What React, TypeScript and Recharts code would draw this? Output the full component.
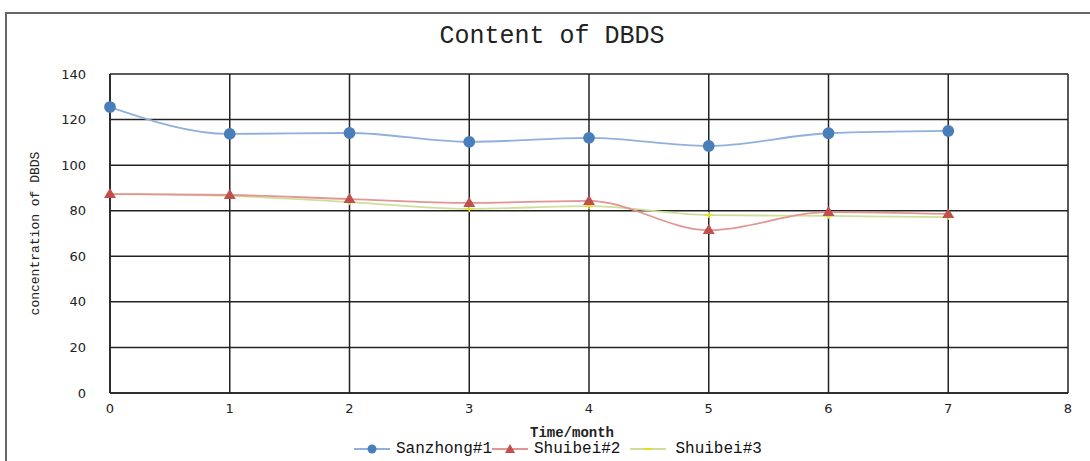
import { LineChart, Line, XAxis, YAxis, CartesianGrid, Legend } from 'recharts';

const months = [0, 1, 2, 3, 4, 5, 6, 7];
const sanzhong1 = [125.5, 113.7, 114.1, 110.2, 112.0, 108.4, 114.0, 115.0];
const shuibei2 = [87.3, 86.9, 85.1, 83.4, 84.3, 71.5, 79.4, 78.6];
const shuibei3 = [87.3, 86.5, 83.8, 80.8, 82.0, 78.1, 77.7, 77.2];
const xTicks = [0, 1, 2, 3, 4, 5, 6, 7, 8];
const yTicks = [0, 20, 40, 60, 80, 100, 120, 140];

const SERIES = [
  { key: 'Sanzhong#1', line: '#8fb0dc', mark: '#4a7ebb' },
  { key: 'Shuibei#2', line: '#e29593', mark: '#c0504d' },
  { key: 'Shuibei#3', line: '#cfdf9a', mark: '#e4e020' },
];

const data = months.map((m, i) => ({
  month: m,
  'Sanzhong#1': sanzhong1[i],
  'Shuibei#2': shuibei2[i],
  'Shuibei#3': shuibei3[i],
}));

const MONO = '"Liberation Mono", "DejaVu Sans Mono", monospace';
const tickStyle = { fill: '#222', fontSize: 13, fontFamily: '"DejaVu Sans", sans-serif' };

// red triangle marker
const Triangle = (props: any) => {
  const { cx, cy } = props;
  if (cx == null || cy == null) return null;
  return <path d={`M${cx},${cy - 6} L${cx + 6},${cy + 4} L${cx - 6},${cy + 4} Z`} fill="#c0504d" />;
};

// small yellow star-ish marker
const Star = (props: any) => {
  const { cx, cy } = props;
  if (cx == null || cy == null) return null;
  return (
    <g stroke="#e4e020" strokeWidth={1.5}>
      <line x1={cx - 4} y1={cy} x2={cx + 4} y2={cy} />
      <line x1={cx} y1={cy - 3} x2={cx} y2={cy + 3} />
    </g>
  );
};

const LegendBox = () => (
  <div style={{ display: 'flex', alignItems: 'center', fontFamily: MONO, fontSize: 16, color: '#111' }}>
    <svg width={36} height={12}>
      <line x1={0} y1={6} x2={36} y2={6} stroke="#8fb0dc" strokeWidth={2} />
      <circle cx={18} cy={6} r={4.5} fill="#4a7ebb" />
    </svg>
    <span style={{ marginLeft: 6 }}>Sanzhong#1</span>
    <svg width={36} height={12}>
      <line x1={0} y1={6} x2={36} y2={6} stroke="#e29593" strokeWidth={2} />
      <path d="M18,1 L23,10 L13,10 Z" fill="#c0504d" />
    </svg>
    <span style={{ marginLeft: 6 }}>Shuibei#2</span>
    <svg width={36} height={12} style={{ marginLeft: 10 }}>
      <line x1={0} y1={6} x2={36} y2={6} stroke="#cfdf9a" strokeWidth={2} />
      <line x1={14} y1={6} x2={22} y2={6} stroke="#e4e020" strokeWidth={2} />
    </svg>
    <span style={{ marginLeft: 9 }}>Shuibei#3</span>
  </div>
);

export default function App() {
  return (
    <div style={{ position: 'absolute', left: 0, top: 0, width: 1090, height: 461, background: '#fff', overflow: 'hidden' }}>
      <div
        style={{
          position: 'absolute',
          left: 5,
          top: 12,
          width: 1100,
          height: 470,
          border: '2px solid #666',
          boxSizing: 'border-box',
        }}
      />
      <div
        style={{
          position: 'absolute',
          left: 0,
          width: 1104,
          top: 22,
          textAlign: 'center',
          fontFamily: MONO,
          fontSize: 25,
          color: '#222',
        }}
      >
        Content of DBDS
      </div>
      <LineChart
        width={1090}
        height={461}
        data={data}
        margin={{ top: 74, right: 22, left: 0, bottom: 0 }}
        style={{ position: 'absolute', left: 0, top: 0 }}
      >
        <CartesianGrid stroke="#222" strokeWidth={1.5} vertical horizontal />
        <XAxis
          dataKey="month"
          type="number"
          domain={[0, 8]}
          ticks={xTicks}
          height={68}
          tickLine={false}
          axisLine={{ stroke: '#222', strokeWidth: 1.5 }}
          tick={tickStyle}
          tickMargin={5}
          label={{
            value: 'Time/month',
            position: 'insideTop',
            offset: 34,
            dx: -17,
            style: { fontFamily: MONO, fontSize: 14, fontWeight: 'bold', fill: '#222' },
          }}
        />
        <YAxis
          domain={[0, 140]}
          ticks={yTicks}
          width={110}
          tickLine={false}
          axisLine={{ stroke: '#222', strokeWidth: 1.5 }}
          tick={tickStyle}
          tickMargin={18}
          label={{
            value: 'concentration of DBDS',
            angle: -90,
            position: 'insideLeft',
            offset: 34,
            style: { fontFamily: MONO, fontSize: 13, fill: '#222', textAnchor: 'middle' },
          }}
        />
        <Legend
          layout="horizontal"
          verticalAlign="middle"
          align="center"
          wrapperStyle={{ top: 440, left: 354, width: 'auto' }}
          content={() => <LegendBox />}
        />
        <Line
          type="monotone"
          dataKey="Sanzhong#1"
          stroke={SERIES[0].line}
          strokeWidth={1.8}
          dot={{ r: 5, fill: SERIES[0].mark, stroke: SERIES[0].mark }}
          isAnimationActive={false}
        />
        <Line
          type="monotone"
          dataKey="Shuibei#3"
          stroke={SERIES[2].line}
          strokeWidth={1.8}
          dot={<Star />}
          isAnimationActive={false}
        />
        <Line
          type="monotone"
          dataKey="Shuibei#2"
          stroke={SERIES[1].line}
          strokeWidth={1.8}
          dot={<Triangle />}
          isAnimationActive={false}
        />
      </LineChart>
    </div>
  );
}
